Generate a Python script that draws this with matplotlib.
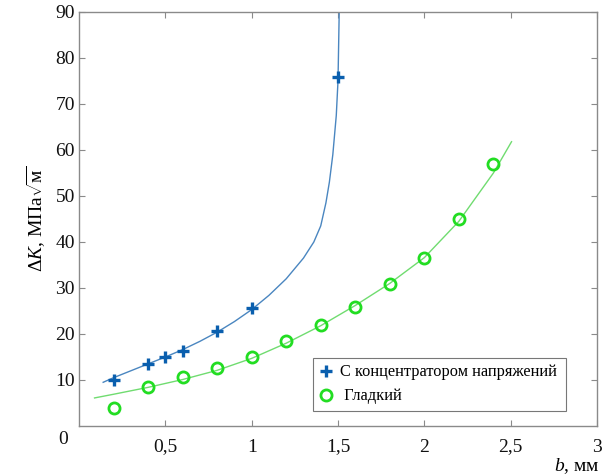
import matplotlib
matplotlib.use("Agg")
import matplotlib.pyplot as plt

plt.rcParams['font.family'] = ['Liberation Serif', 'DejaVu Serif']
plt.rcParams['mathtext.fontset'] = 'custom'
plt.rcParams['mathtext.rm'] = 'Liberation Serif'
plt.rcParams['mathtext.it'] = 'Liberation Serif:italic'

# Measured points
conc_x = [0.2, 0.4, 0.5, 0.6, 0.8, 1.0, 1.5]
conc_y = [10.0, 13.5, 15.1, 16.4, 20.6, 25.6, 75.9]
smooth_x = [0.2, 0.4, 0.6, 0.8, 1.0, 1.2, 1.4, 1.6, 1.8, 2.0, 2.2, 2.4]
smooth_y = [4.0, 8.4, 10.7, 12.7, 15.1, 18.5, 21.9, 25.9, 30.9, 36.5, 45.0, 57.0]

# Fitted curves
conc_fit_x = [0.14, 0.2, 0.3, 0.4, 0.5, 0.6, 0.7, 0.8, 0.9, 1.0, 1.1, 1.2, 1.3, 1.36,
              1.40, 1.43, 1.45, 1.47, 1.49, 1.50, 1.507]
conc_fit_y = [9.5, 10.5, 12.0, 13.5, 15.0, 16.6, 18.4, 20.4, 22.7, 25.3, 28.4, 32.0, 36.5, 40.0,
              43.5, 48.5, 53.0, 59.0, 67.5, 75.0, 90.0]
smooth_fit_x = [0.09, 0.2, 0.4, 0.6, 0.8, 1.0, 1.2, 1.4, 1.6, 1.8, 2.0, 2.2, 2.4, 2.505]
smooth_fit_y = [6.1, 6.9, 8.4, 10.1, 12.1, 14.7, 18.0, 21.8, 26.2, 31.0, 36.6, 44.5, 55.0, 61.8]

x_ticks = [0.5, 1.0, 1.5, 2.0, 2.5, 3.0]
x_tick_labels = ["0,5", "1", "1,5", "2", "2,5", "3"]
y_ticks = [10, 20, 30, 40, 50, 60, 70, 80, 90]
y_tick_labels = ["10", "20", "30", "40", "50", "60", "70", "80", "90"]

fig = plt.figure(figsize=(6.02, 4.75), dpi=100)
ax = fig.add_axes([79/602, 49/475, (597-79)/602, (426-12)/475])

blue_line = '#4a86c0'
blue_mark = '#0a5fae'
green_line = '#70dc70'
green_mark = '#22dd22'

ax.plot(conc_fit_x, conc_fit_y, color=blue_line, lw=1.0, zorder=2)
ax.plot(smooth_fit_x, smooth_fit_y, color=green_line, lw=1.0, zorder=2)
ax.plot(conc_x, conc_y, linestyle='none', marker='+', ms=9, mew=2.4, color=blue_mark,
        label='С концентратором напряжений', zorder=3)
ax.plot(smooth_x, smooth_y, linestyle='none', marker='o', ms=8, mew=2.0, mfc='none',
        mec=green_mark, label=' Гладкий', zorder=3)

ax.set_xlim(0, 3)
ax.set_ylim(0, 90)
ax.set_xticks(x_ticks)
ax.set_xticklabels(x_tick_labels)
ax.set_yticks(y_ticks)
ax.set_yticklabels(y_tick_labels)

spine_c = '#8a8a8a'
for s in ax.spines.values():
    s.set_color(spine_c)
    s.set_linewidth(1.0)
ax.tick_params(direction='in', length=4, width=0.8, color=spine_c,
               top=True, right=True, labelsize=14, labelcolor='#111111')
ax.tick_params(axis='x', pad=9)
ax.tick_params(axis='y', pad=3)

ax.text(-0.022, -0.012, '0', transform=ax.transAxes, ha='right', va='top', fontsize=14,
        color='#111111')

ax.set_ylabel(r'$\Delta\mathit{K}$, МПа$\sqrt{\mathrm{м}}$', fontsize=14, labelpad=6)
fig.text(600/602, 1 - 466/475, r'$\mathit{b}$, мм', ha='right', va='center', fontsize=14)

leg = ax.legend(loc='lower left', bbox_to_anchor=((313-79)/518, (426-411)/414,
                (566-313)/518, (411-349)/414), mode='expand',
                fontsize=11.8, frameon=True, fancybox=False, handlelength=0.8,
                handletextpad=0.45, borderpad=0.4, borderaxespad=0, labelspacing=0.5)
leg.get_frame().set_edgecolor('#555555')
leg.get_frame().set_linewidth(0.8)

fig.savefig('out.png', dpi=100)
